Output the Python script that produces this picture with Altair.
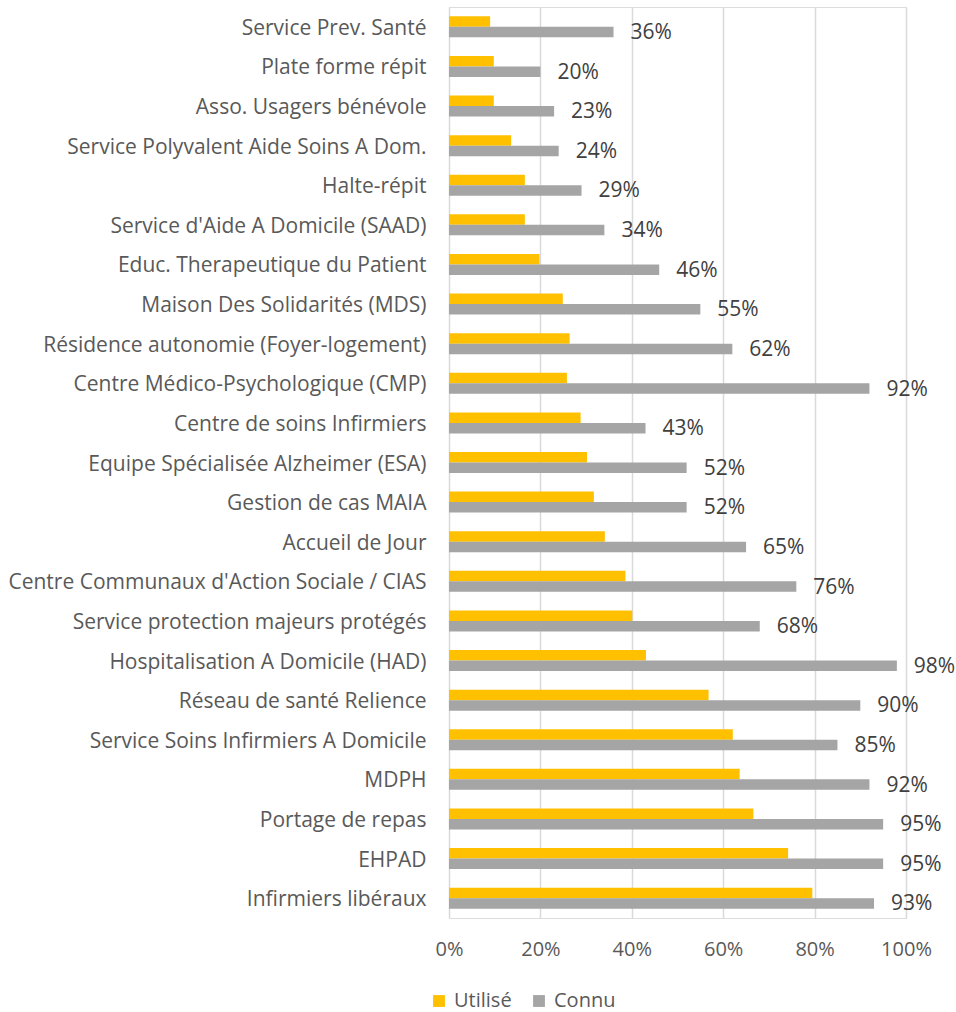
import altair as alt
import pandas as pd

categories = [
    "Service Prev. Santé",
    "Plate forme répit",
    "Asso. Usagers bénévole",
    "Service Polyvalent Aide Soins A Dom.",
    "Halte-répit",
    "Service d'Aide A Domicile (SAAD)",
    "Educ. Therapeutique du Patient",
    "Maison Des Solidarités (MDS)",
    "Résidence autonomie (Foyer-logement)",
    "Centre Médico-Psychologique (CMP)",
    "Centre de soins Infirmiers",
    "Equipe Spécialisée Alzheimer (ESA)",
    "Gestion de cas MAIA",
    "Accueil de Jour",
    "Centre Communaux d'Action Sociale / CIAS",
    "Service protection majeurs protégés",
    "Hospitalisation A Domicile (HAD)",
    "Réseau de santé Relience",
    "Service Soins Infirmiers A Domicile",
    "MDPH",
    "Portage de repas",
    "EHPAD",
    "Infirmiers libéraux",
]

utilise = [0.09, 0.098, 0.098, 0.136, 0.166, 0.166, 0.198, 0.249, 0.264, 0.258,
           0.288, 0.302, 0.317, 0.341, 0.386, 0.401, 0.431, 0.568, 0.621, 0.636,
           0.666, 0.742, 0.795]

connu = [0.36, 0.20, 0.23, 0.24, 0.29, 0.34, 0.46, 0.55, 0.62, 0.92,
         0.43, 0.52, 0.52, 0.65, 0.76, 0.68, 0.98, 0.90, 0.85, 0.92,
         0.95, 0.95, 0.93]

series = ["Utilisé", "Connu"]
colors = ["#FFC000", "#A5A5A5"]

rows = []
for c, u, k in zip(categories, utilise, connu):
    rows.append({"cat": c, "serie": "Utilisé", "val": u})
    rows.append({"cat": c, "serie": "Connu", "val": k})
df = pd.DataFrame(rows)

FONT = "Open Sans"
FS = 21

y_enc = alt.Y("cat:N", sort=categories, title=None,
              scale=alt.Scale(paddingInner=0.47, paddingOuter=0.235),
              axis=alt.Axis(labelFontSize=FS, labelColor="#595959", labelFont=FONT,
                            labelPadding=23, labelLimit=600, labelOffset=2,
                            ticks=False, tickSize=0, domain=False, grid=False))
yoff = alt.YOffset("serie:N", sort=series,
                   scale=alt.Scale(domain=series, paddingInner=0, paddingOuter=0))

bars = alt.Chart(df).mark_bar().encode(
    x=alt.X("val:Q", title=None,
            scale=alt.Scale(domain=[0, 1], nice=False),
            axis=alt.Axis(values=[0, 0.2, 0.4, 0.6, 0.8, 1.0], format=".0%",
                          labelFontSize=20, labelColor="#595959", labelFont=FONT,
                          labelPadding=21, labelFlush=False, ticks=False, tickSize=0,
                          domain=False, grid=True, gridColor="#D9D9D9", gridWidth=1.5)),
    y=y_enc,
    yOffset=yoff,
    color=alt.Color("serie:N", sort=series,
                    scale=alt.Scale(domain=series, range=colors),
                    legend=alt.Legend(title=None, orient="none", direction="horizontal",
                                      legendX=-20, legendY=984, padding=0,
                                      labelFontSize=20, labelColor="#595959",
                                      labelFont=FONT, symbolType="square",
                                      symbolSize=140, symbolStrokeWidth=0,
                                      labelOffset=5, columnPadding=17)),
)

labels = alt.Chart(df).transform_filter(alt.datum.serie == "Connu").mark_text(
    align="left", baseline="middle", dx=17, dy=1, fontSize=FS, font=FONT, color="#404040"
).encode(
    x="val:Q",
    y=alt.Y("cat:N", sort=categories),
    yOffset=yoff,
    text=alt.Text("val:Q", format=".0%"),
)

chart = alt.layer(bars, labels).properties(
    width=457, height=911,
    autosize=alt.AutoSizeParams(type="none"),
    padding={"left": 449, "top": 7, "right": 50, "bottom": 94},
).configure_view(stroke=None).configure(background="white")

chart.save("out.html", embed_options={"renderer": "svg", "actions": False})
